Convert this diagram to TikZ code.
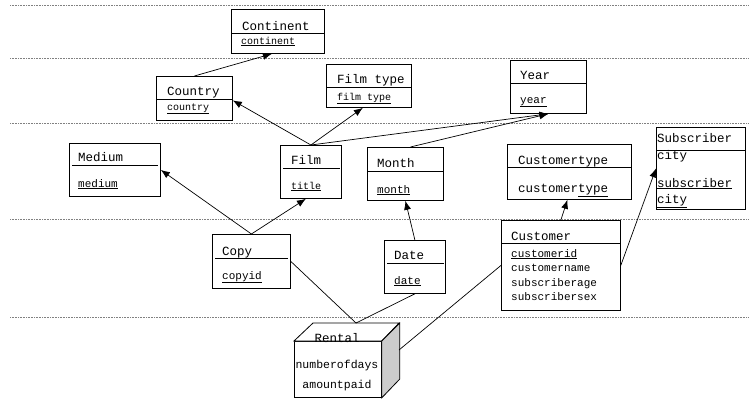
\documentclass[tikz,border=0pt]{standalone}
\usepackage{fontspec}
\setmainfont{Liberation Mono}
\usetikzlibrary{arrows.meta}
\begin{document}
\begin{tikzpicture}[x=1pt,y=-1pt,
  ent/.style={draw,line width=0.8pt,fill=white,anchor=north west,inner sep=0pt},
  ttl/.style={anchor=base west,inner sep=0pt,font=\fontsize{12.5}{14}\selectfont},
  att/.style={anchor=base west,inner sep=0pt,font=\fontsize{11}{13}\selectfont},
  small/.style={font=\fontsize{10}{12}\selectfont},
  level/.style={densely dotted,gray,line width=0.6pt},
  rel/.style={-{Latex[length=9pt,width=7pt]},line width=0.7pt}]
\useasboundingbox (0,0) rectangle (749,399);
\foreach \y in {5,58,123,219,317}
\draw[level] (10,\y) -- (749,\y);
% dimension boxes
\node[ent,minimum width=93pt,minimum height=44pt] (continent) at (231,9) {};
\draw (continent.west |- 0,33) -- (continent.east |- 0,33);
\node[ttl] at (242,30) {Continent};
\node[att,small] at (241,44) {\underline{continent}};
\node[ent,minimum width=76pt,minimum height=44pt] (country) at (156,76) {};
\draw (country.west |- 0,99) -- (country.east |- 0,99);
\node[ttl] at (167,95) {Country};
\node[att,small] at (167,110) {\underline{country}};
\node[ent,minimum width=85pt,minimum height=43pt] (filmtype) at (326,64) {};
\draw (filmtype.west |- 0,87) -- (filmtype.east |- 0,87);
\node[ttl] at (337,83) {Film type};
\node[att,small] at (337,100) {\underline{film type}};
\node[ent,minimum width=76pt,minimum height=53pt] (year) at (510,60) {};
\draw (year.west |- 0,83) -- (year.east |- 0,83);
\node[ttl] at (520,79) {Year};
\node[att] at (520,103) {\underline{year}};
\node[ent,minimum width=91pt,minimum height=53pt] (medium) at (69,143) {};
\draw (72,165) -- (158,165);
\node[ttl] at (78,161) {Medium};
\node[att] at (78,187) {\underline{medium}};
\node[ent,minimum width=61pt,minimum height=53pt] (film) at (280,145) {};
\draw (283,168) -- (340,168);
\node[ttl] at (291,164) {Film};
\node[att,small] at (291,189) {\underline{title}};
\node[ent,minimum width=76pt,minimum height=53pt] (month) at (367,147) {};
\draw (month.west |- 0,171) -- (month.east |- 0,171);
\node[ttl] at (377,167) {Month};
\node[att] at (377,193) {\underline{month}};
\node[ent,minimum width=124pt,minimum height=55pt] (custtype) at (507,144) {};
\draw (custtype.west |- 0,167) -- (custtype.east |- 0,167);
\node[ttl] at (518,164) {Customertype};
\node[ttl] at (518,192) {customer\underline{type}};
\node[ent,minimum width=89pt,minimum height=82pt] (subscriber) at (656,127) {};
\draw (subscriber.west |- 0,150) -- (subscriber.east |- 0,150);
\node[ttl] at (657,142) {Subscriber};
\node[ttl] at (657,159) {city};
\node[ttl] at (657,187) {\underline{subscriber}};
\node[ttl] at (657,203) {\underline{city}};
\node[ent,minimum width=78pt,minimum height=54pt] (copy) at (212,234) {};
\draw (215,258) -- (288,258);
\node[ttl] at (222,255) {Copy};
\node[att] at (222,279) {\underline{copyid}};
\node[ent,minimum width=61pt,minimum height=53pt] (date) at (384,240) {};
\draw (387,263) -- (444,263);
\node[ttl] at (394,259) {Date};
\node[att] at (394,284) {\underline{date}};
\node[ent,minimum width=119pt,minimum height=90pt] (customer) at (501,220) {};
\draw (customer.west |- 0,243) -- (customer.east |- 0,243);
\node[ttl] at (511,240) {Customer};
\node[att] at (511,257) {\underline{customerid}};
\node[att] at (511,271) {customername};
\node[att] at (511,286) {subscriberage};
\node[att] at (511,300) {subscribersex};
% fact cube
\node[ent,minimum width=87pt,minimum height=56pt] (rental) at (294,341) {};
\filldraw[line width=0.8pt,fill=white] (rental.north west) -- ++(19,-18) -- ++(86,0) -- (rental.north east) -- cycle;
\filldraw[line width=0.8pt,fill=gray!40] (rental.north east) -- ++(18,-18) -- ++(0,56) -- (rental.south east) -- cycle;
\node[ttl,anchor=base] at (337,342) {Rental};
\node[att,anchor=base,font=\fontsize{11.5}{13}\selectfont] at (337,368) {numberofdays};
\node[att,anchor=base,font=\fontsize{11.5}{13}\selectfont] at (337,388) {amountpaid};
\coordinate (rtop) at (356,323);
\coordinate (rside) at (399,350);
% hierarchies
\draw[rel] (country.north) -- ([xshift=-6pt]continent.south);
\draw[rel] (film.north) -- ([yshift=-2pt]country.east);
\draw[rel] (film.north) -- ([xshift=-6pt]filmtype.south);
\draw[rel] (film.north) -- (year.south);
\draw[rel] ([xshift=5pt]month.north) -- (year.south);
\draw[rel] (copy.north) -- (medium.east);
\draw[rel] (copy.north) -- ([xshift=-5pt]film.south);
\draw[rel] (date.north) -- (month.south);
\draw[rel] (customer.north) -- ([xshift=-2pt]custtype.south);
\draw[rel] (customer.east) -- (subscriber.west);
\draw[line width=0.7pt] (copy.east) -- (rtop);
\draw[line width=0.7pt] (date.south) -- (rtop);
\draw[line width=0.7pt] (customer.west) -- (rside);
\end{tikzpicture}
\end{document}
